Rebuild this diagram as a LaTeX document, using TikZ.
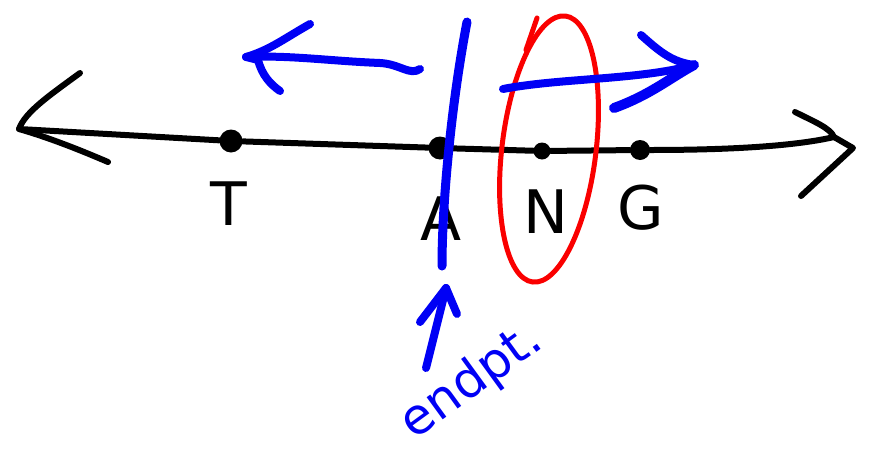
\documentclass[tikz,border=0pt]{standalone}
\usepackage{fontspec}
\setmainfont{DejaVu Sans}
\definecolor{pblue}{RGB}{0,0,245}
\definecolor{pred}{RGB}{250,0,0}
\begin{document}
\begin{tikzpicture}[x=1pt,y=-1pt,line cap=round,line join=round,
  ink/.style={draw=black,line width=6pt},
  blueink/.style={draw=pblue,line width=8pt},
  redink/.style={draw=pred,line width=5pt},
  dot/.style={circle,fill=black,inner sep=0pt,minimum size=#1},
  lab/.style={font=\fontsize{60}{60}\selectfont,inner sep=0pt}]
\useasboundingbox (0,0) rectangle (872,450);
% main number line
\coordinate (Lt) at (19,129);
\coordinate (Rend) at (834,137);
\coordinate (Rt) at (853,148);
\node[dot=23pt] (T) at (231,141) {};
\node[dot=23pt] (A) at (440,148) {};
\node[dot=17pt] (N) at (542,151) {};
\node[dot=20pt] (G) at (640,150) {};
\draw[ink] (Lt) -- (T) -- (A) -- (N) -- (G) .. controls (740,150) and (800,145) .. (Rend);
% left arrowhead
\coordinate (La) at (80,73);
\coordinate (Lb) at (108,162);
\draw[ink] (La) .. controls (50,95) and (25,112) .. (Lt) .. controls (50,138) and (80,150) .. (Lb);
% right arrowhead
\coordinate (Ra) at (795,112);
\coordinate (Rb) at (801,196);
\draw[ink] (Ra) .. controls (815,122) and (830,128) .. (Rend) -- (Rt) -- (Rb);
% labels
\node[lab] (lT) at (229,204) {T};
\node[lab] (lA) at (441,219) {A};
\node[lab] (lN) at (546,212) {N};
\node[lab] (lG) at (641,208) {G};
% blue vertical line through A
\coordinate (Vt) at (467,22);
\coordinate (Vb) at (442,266);
\draw[blueink,line width=9pt] (Vt) .. controls (452,100) and (442,200) .. (Vb);
% red ellipse around N
\coordinate (Ec) at (549,149);
\draw[redink,rotate around={-7:(Ec)}] (Ec) ellipse [x radius=47pt,y radius=134pt];
\coordinate (Et1) at (537,18);
\coordinate (Et2) at (526,50);
\draw[redink] (Et1) -- (Et2);
% left blue arrow
\coordinate (LAtip) at (246,57);
\coordinate (LAend) at (420,69);
\coordinate (LAu) at (310,24);
\coordinate (LAd) at (280,91);
\draw[blueink] (LAend) .. controls (410,76) and (400,64) .. (380,63) .. controls (330,61) and (290,55) .. (LAtip);
\draw[blueink] (LAu) .. controls (285,38) and (270,50) .. (LAtip) -- (258,60) .. controls (262,75) and (270,84) .. (LAd);
% right blue arrow
\coordinate (RAs) at (503,89);
\coordinate (RAtip) at (694,65);
\coordinate (RAu) at (641,35);
\coordinate (RAd) at (614,108);
\draw[blueink] (RAs) .. controls (560,78) and (640,80) .. (RAtip);
\draw[blueink] (RAu) .. controls (660,52) and (672,62) .. (RAtip);
\draw[blueink,line width=10pt] (RAtip) .. controls (670,78) and (650,95) .. (RAd);
% bottom blue arrow
\coordinate (Bs) at (426,368);
\coordinate (Btip) at (446,288);
\coordinate (Bl) at (420,322);
\coordinate (Br) at (457,314);
\draw[blueink] (Bs) -- (Btip);
\draw[blueink] (Bl) -- (Btip) -- (Br);
\node[font=\fontsize{50}{50}\selectfont,text=pblue,rotate=36,inner sep=0pt] (endpt) at (472,382) {endpt.};
\end{tikzpicture}
\end{document}
